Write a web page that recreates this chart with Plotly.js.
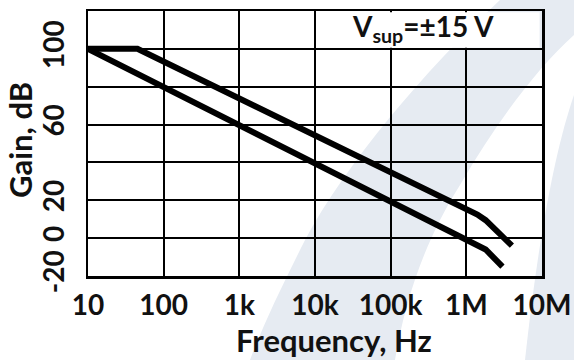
<!DOCTYPE html>
<html>
<head>
<meta charset="utf-8">
<script src="https://cdn.plot.ly/plotly-3.0.1.min.js"></script>
<style>
  html, body { margin: 0; padding: 0; background: #ffffff; }
  #chart { width: 574px; height: 360px; }
</style>
</head>
<body>
<div id="chart"></div>
<script>
// Open-loop gain vs. frequency (two curves), Vsup = ±15 V
const freqUpper = [10, 45, 1.4e6, 1.8e6, 4e6];
const gainUpper = [100, 100, 12.5, 9.5, -4];

const freqLower = [10, 1.4e6, 1.8e6, 3e6];
const gainLower = [100, -3, -6, -15];

const xTickVals = [10, 100, 1e3, 1e4, 1e5, 1e6, 1e7];
const xTickText = ['10', '100', '1k', '10k', '100k', '1M', '10M'];

const yTickVals = [-20, 0, 20, 40, 60, 80, 100, 120];
const yTickText = ['-20', '0', '20', '', '60', '', '100', ''];

const FONT = 'Lato, "Open Sans", "DejaVu Sans", sans-serif';

// plot area geometry (px)
const M = { l: 88, r: 32, t: 11, b: 84 };
const W = 574, H = 360;
const PW = W - M.l - M.r, PH = H - M.t - M.b;

// window pixel -> paper coordinates, used for the faint background artwork
function P(x, y) {
  return ((x - M.l) / PW).toFixed(4) + ',' + ((H - M.b - y) / PH).toFixed(4);
}
function path(cmds) {
  return cmds.map(c => c[0] + ' ' + c.slice(1).map(p => P(p[0], p[1])).join(' ')).join(' ') + ' Z';
}

const tint = '#e6ebf2';
const bandA = path([
  ['M', [500, 0]],
  ['C', [425, 70], [345, 165], [305, 240]],
  ['C', [285, 280], [265, 320], [250, 360]],
  ['L', [395, 360]],
  ['C', [405, 300], [425, 240], [460, 185]],
  ['C', [495, 125], [535, 70], [574, 35]],
  ['L', [574, 0]]
]);
const bandB = path([
  ['M', [574, 95]],
  ['C', [555, 150], [538, 240], [525, 360]],
  ['L', [574, 360]]
]);

const traces = [
  {
    x: freqUpper, y: gainUpper, type: 'scatter', mode: 'lines',
    line: { color: '#000000', width: 6 }, hoverinfo: 'skip', showlegend: false
  },
  {
    x: freqLower, y: gainLower, type: 'scatter', mode: 'lines',
    line: { color: '#000000', width: 6 }, hoverinfo: 'skip', showlegend: false
  }
];

const tickFont = { family: FONT, size: 28, color: '#111111', weight: 'bold' };

const layout = {
  width: W, height: H,
  margin: M,
  paper_bgcolor: '#ffffff',
  plot_bgcolor: 'rgba(0,0,0,0)',
  showlegend: false,
  font: { family: FONT, size: 28, color: '#111111', weight: 'bold' },
  xaxis: {
    type: 'log',
    range: [1, 7],
    tickvals: xTickVals, ticktext: xTickText,
    showgrid: true, gridcolor: '#000000', gridwidth: 2,
    showline: true, linecolor: '#000000', linewidth: 2.5, mirror: true,
    ticks: '', zeroline: false,
    ticklabelstandoff: 3,
    tickfont: tickFont,
    fixedrange: true
  },
  yaxis: {
    range: [-20, 120],
    tickvals: yTickVals, ticktext: yTickText,
    showgrid: true, gridcolor: '#000000', gridwidth: 2,
    showline: true, linecolor: '#000000', linewidth: 2.5, mirror: true,
    ticks: '', zeroline: false,
    tickangle: -90,
    ticklabelstandoff: 10,
    tickfont: tickFont,
    fixedrange: true
  },
  shapes: [
    { type: 'path', xref: 'paper', yref: 'paper', path: bandA, fillcolor: tint, line: { width: 0 }, layer: 'below' },
    { type: 'path', xref: 'paper', yref: 'paper', path: bandB, fillcolor: tint, line: { width: 0 }, layer: 'below' },
    // merged label cell in the top row
    { type: 'rect', xref: 'x', yref: 'y', x0: 1.08e4, x1: 9.3e6, y0: 100.6, y1: 119.4,
      fillcolor: '#ffffff', line: { width: 0 }, layer: 'above' }
  ],
  annotations: [
    {
      text: 'V<sub>sup</sub>=±15 V', xref: 'paper', yref: 'paper',
      x: 0.738, y: 0.935, xanchor: 'center', yanchor: 'middle', showarrow: false,
      font: { family: FONT, size: 28, color: '#111111', weight: 'bold' }
    },
    {
      text: 'Frequency, Hz', xref: 'paper', yref: 'paper',
      x: 0.542, y: -0.24, xanchor: 'center', yanchor: 'middle', showarrow: false,
      font: { family: FONT, size: 31, color: '#111111', weight: 'bold' }
    },
    {
      text: 'Gain, dB', xref: 'paper', yref: 'paper', textangle: -90,
      x: -0.15, y: 0.513, xanchor: 'center', yanchor: 'middle', showarrow: false,
      font: { family: FONT, size: 31, color: '#111111', weight: 'bold' }
    }
  ]
};

Plotly.newPlot('chart', traces, layout, { staticPlot: true, displayModeBar: false });
</script>
</body>
</html>
